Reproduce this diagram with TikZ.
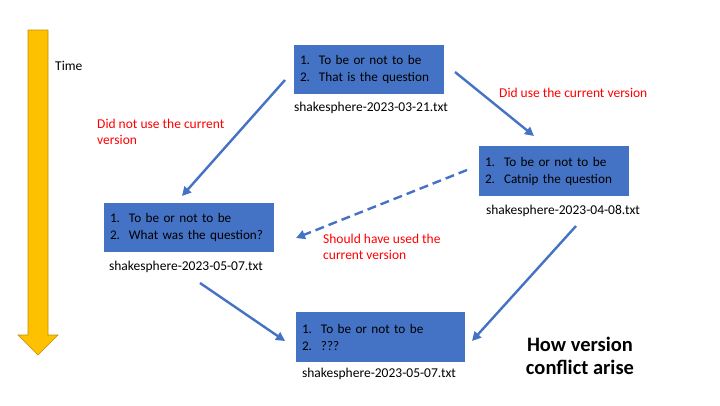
\documentclass[tikz,border=0pt]{standalone}
\usepackage{fontspec}
\setmainfont{Carlito}
\usetikzlibrary{arrows.meta}
\definecolor{boxblue}{HTML}{4472C4}
\definecolor{gold}{HTML}{FFC000}
\definecolor{goldedge}{HTML}{BF9000}
\newcommand{\li}[1]{\makebox[19pt][l]{#1}}
\tikzset{
  filebox/.style={fill=boxblue, draw=none, align=left, inner sep=0pt, font=\fontsize{13.2}{17}\selectfont, text=black},
  fname/.style={font=\fontsize{13.5}{15}\selectfont, inner sep=0pt},
  note/.style={font=\fontsize{13.5}{16}\selectfont, text=red, align=left, inner sep=0pt, anchor=west},
  conn/.style={draw=boxblue, line width=2.4pt, -{Triangle[length=9pt,width=9pt]}},
}
\begin{document}
\begin{tikzpicture}[x=1pt,y=-1pt]
\useasboundingbox (0,0) rectangle (720,405);
% time arrow
\draw[fill=gold, draw=goldedge, line width=0.6pt] (28,30) -- (48,30) -- (48,335) -- (58,335) -- (38,355) -- (18,335) -- (28,335) -- cycle;
\node[fname, anchor=west] (time) at (55,66) {Time};
% boxes
\node[filebox, minimum width=150, minimum height=49, text width=138] (b1) at (369,69.5) {\li{1.}To be or not to be\\\li{2.}That is the question};
\node[fname] (l1) at (371,108) {shakesphere-2023-03-21.txt};
\node[filebox, minimum width=150, minimum height=50, text width=138] (b2) at (554,171) {\li{1.}To be or not to be\\\li{2.}Catnip the question};
\node[fname] (l2) at (563,211) {shakesphere-2023-04-08.txt};
\node[filebox, minimum width=170, minimum height=49, text width=158] (b3) at (189,227.5) {\li{1.}To be or not to be\\\li{2.}What was the question?};
\node[fname] (l3) at (186,267) {shakesphere-2023-05-07.txt};
\node[filebox, minimum width=169, minimum height=50, text width=157] (b4) at (380.5,337) {\li{1.}To be or not to be\\\li{2.}???};
\node[fname] (l4) at (379,374) {shakesphere-2023-05-07.txt};
% notes
\node[note] (n1) at (499,93) {Did use the current version};
\node[note] (n2) at (97,132) {Did not use the current\\version};
\node[note] (n3) at (323,247) {Should have used the\\current version};
\node[font=\bfseries\fontsize{20.5}{23}\selectfont, align=center, inner sep=0pt] (title) at (580,356) {How version\\conflict arise};
% connector endpoints
\coordinate (a1s) at (285,80);  \coordinate (a1e) at (182,196);
\coordinate (a2s) at (455,72);  \coordinate (a2e) at (534,136);
\coordinate (a3s) at (467,170); \coordinate (a3e) at (296,238);
\coordinate (a4s) at (200,283); \coordinate (a4e) at (285,341);
\coordinate (a5s) at (576,226); \coordinate (a5e) at (472,341);
\draw[conn] (a1s) -- (a1e);
\draw[conn] (a2s) -- (a2e);
\draw[conn, dash pattern=on 9pt off 5pt] (a3s) -- (a3e);
\draw[conn] (a4s) -- (a4e);
\draw[conn] (a5s) -- (a5e);
\end{tikzpicture}
\end{document}
